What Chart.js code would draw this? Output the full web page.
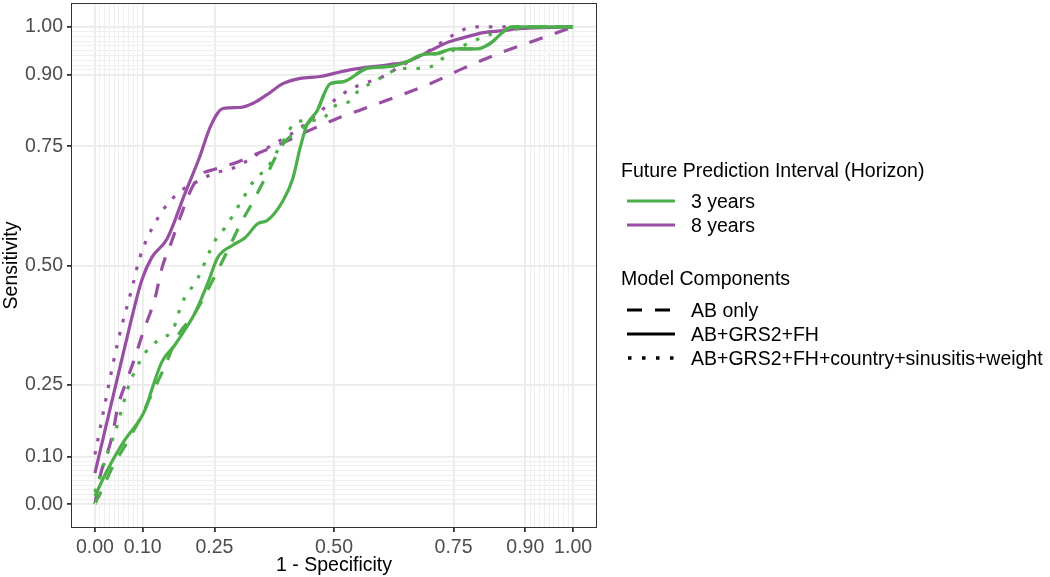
<!DOCTYPE html>
<html>
<head>
<meta charset="utf-8">
<script src="https://cdn.jsdelivr.net/npm/chart.js@4.4.1/dist/chart.umd.min.js"></script>
<style>
  body { margin: 0; background: #fff; font-family: "Liberation Sans", Arial, sans-serif; }
  #wrap { position: relative; width: 1050px; height: 577px; }
  .lg { position: absolute; font-size: 19.5px; line-height: 24px; color: #000; white-space: nowrap; }
  .key { position: absolute; }
</style>
</head>
<body>
<div id="wrap">
  <canvas id="roc" width="1050" height="577"></canvas>

  <div class="lg" style="left:621px; top:158px;">Future Prediction Interval (Horizon)</div>
  <svg class="key" style="left:627px; top:193px;" width="50" height="40">
    <line x1="0" y1="8" x2="48" y2="8" stroke="#4DAF4A" stroke-width="3.2"/>
    <line x1="0" y1="32" x2="48" y2="32" stroke="#984EA3" stroke-width="3.2"/>
  </svg>
  <div class="lg" style="left:691px; top:189px;">3 years</div>
  <div class="lg" style="left:691px; top:213px;">8 years</div>

  <div class="lg" style="left:621px; top:266px;">Model Components</div>
  <svg class="key" style="left:627px; top:302px;" width="50" height="64">
    <line x1="0" y1="8" x2="48" y2="8" stroke="#000" stroke-width="3.2" stroke-dasharray="15 13"/>
    <line x1="0" y1="32" x2="48" y2="32" stroke="#000" stroke-width="3.2"/>
    <line x1="1" y1="56" x2="48" y2="56" stroke="#000" stroke-width="3.5" stroke-dasharray="3.5 10.5"/>
  </svg>
  <div class="lg" style="left:691px; top:298px;">AB only</div>
  <div class="lg" style="left:691px; top:322px;">AB+GRS2+FH</div>
  <div class="lg" style="left:691px; top:346px;">AB+GRS2+FH+country+sinusitis+weight</div>
</div>

<script>
// axis breaks (labelled) and the fine grid lines near 0 and 1
const majorBreaks = [0, 0.1, 0.25, 0.5, 0.75, 0.9, 1];
const minorBreaks = [0.01, 0.02, 0.03, 0.04, 0.05, 0.06, 0.07, 0.08, 0.09,
                     0.91, 0.92, 0.93, 0.94, 0.95, 0.96, 0.97, 0.98, 0.99];

// 3 years
const fpr3AB   = [0, 0.01, 0.038, 0.067, 0.094, 0.121, 0.146, 0.174, 0.209, 0.257, 0.272, 0.308, 0.328, 0.356, 0.393, 0.423, 0.444, 0.464, 0.492, 0.519, 0.569, 0.617, 0.653, 0.686, 0.715, 0.749, 0.799, 0.826, 0.862, 0.874, 1];
const tpr3AB   = [0, 0.02, 0.080, 0.129, 0.178, 0.235, 0.288, 0.354, 0.400, 0.490, 0.520, 0.594, 0.629, 0.683, 0.754, 0.781, 0.796, 0.823, 0.881, 0.885, 0.913, 0.917, 0.927, 0.942, 0.944, 0.954, 0.954, 0.965, 0.996, 1, 1];
const fpr3GRS  = [0, 0.027, 0.063, 0.094, 0.105, 0.119, 0.140, 0.167, 0.188, 0.209, 0.236, 0.257, 0.287, 0.314, 0.341, 0.360, 0.393, 0.414, 0.429, 0.444, 0.464, 0.492, 0.519, 0.569, 0.617, 0.653, 0.686, 0.715, 0.749, 0.799, 0.826, 0.862, 0.874, 1];
const tpr3GRS  = [0.017, 0.073, 0.135, 0.177, 0.198, 0.240, 0.298, 0.333, 0.365, 0.400, 0.463, 0.517, 0.542, 0.558, 0.588, 0.594, 0.635, 0.683, 0.746, 0.796, 0.823, 0.881, 0.885, 0.913, 0.917, 0.927, 0.942, 0.944, 0.954, 0.954, 0.965, 0.996, 1, 1];
const fpr3Full = [0, 0.027, 0.046, 0.063, 0.073, 0.098, 0.115, 0.140, 0.163, 0.182, 0.215, 0.251, 0.272, 0.303, 0.335, 0.360, 0.393, 0.423, 0.471, 0.506, 0.533, 0.550, 0.575, 0.603, 0.628, 0.655, 0.686, 0.715, 0.738, 0.780, 0.830, 0.874, 0.910, 1];
const tpr3Full = [0.025, 0.108, 0.163, 0.223, 0.254, 0.306, 0.329, 0.348, 0.365, 0.421, 0.473, 0.552, 0.579, 0.629, 0.681, 0.704, 0.760, 0.802, 0.805, 0.837, 0.844, 0.865, 0.881, 0.896, 0.910, 0.913, 0.913, 0.923, 0.944, 0.965, 0.985, 0.994, 1, 1];

// 8 years
const fpr8AB   = [0, 0.01, 0.036, 0.048, 0.067, 0.084, 0.100, 0.126, 0.140, 0.161, 0.178, 0.203, 0.224, 0.245, 0.299, 0.341, 0.400, 0.444, 0.502, 0.575, 0.632, 0.701, 0.770, 0.854, 0.925, 1];
const tpr8AB   = [0, 0.055, 0.142, 0.204, 0.260, 0.308, 0.358, 0.433, 0.494, 0.552, 0.600, 0.663, 0.692, 0.700, 0.717, 0.735, 0.760, 0.781, 0.806, 0.833, 0.854, 0.881, 0.913, 0.948, 0.973, 1];
const fpr8GRS  = [0, 0.061, 0.098, 0.119, 0.151, 0.188, 0.220, 0.241, 0.268, 0.303, 0.331, 0.360, 0.393, 0.429, 0.471, 0.498, 0.533, 0.617, 0.653, 0.686, 0.736, 0.770, 0.812, 0.854, 0.883, 1];
const tpr8GRS  = [0.065, 0.323, 0.469, 0.517, 0.556, 0.650, 0.730, 0.790, 0.829, 0.831, 0.840, 0.858, 0.881, 0.892, 0.896, 0.902, 0.910, 0.921, 0.927, 0.942, 0.967, 0.977, 0.988, 0.992, 0.996, 1];
const fpr8Full = [0, 0.048, 0.079, 0.094, 0.132, 0.172, 0.220, 0.251, 0.289, 0.360, 0.429, 0.471, 0.506, 0.533, 0.561, 0.603, 0.638, 0.695, 0.743, 0.770, 0.799, 1];
const tpr8Full = [0.104, 0.340, 0.458, 0.517, 0.600, 0.650, 0.679, 0.694, 0.704, 0.746, 0.788, 0.823, 0.850, 0.869, 0.881, 0.896, 0.917, 0.948, 0.979, 0.994, 1, 1];

const refX = [0, 1];
const refY = [0, 1];

const GREEN = '#4DAF4A';
const PURPLE = '#984EA3';
const DASH = [14, 13];
const DOT = [3.5, 10];

function pts(xs, ys) {
  return xs.map((x, i) => ({ x: x, y: ys[i] }));
}

function curve(label, xs, ys, color, dash) {
  return {
    label: label,
    data: pts(xs, ys),
    showLine: true,
    borderColor: color,
    backgroundColor: color,
    borderWidth: 3.2,
    borderDash: dash,
    borderCapStyle: 'butt',
    pointRadius: 0,
    cubicInterpolationMode: 'monotone'
  };
}

const isMajor = (v) => majorBreaks.includes(v);
const allBreaks = majorBreaks.concat(minorBreaks).sort((a, b) => a - b);

// frame round the panel (theme_bw border)
const panelBorder = {
  id: 'panelBorder',
  afterDraw(chart) {
    const a = chart.chartArea;
    const c = chart.ctx;
    c.save();
    c.strokeStyle = '#333333';
    c.lineWidth = 1;
    c.strokeRect(a.left + 0.5, a.top + 0.5, a.right - a.left - 1, a.bottom - a.top - 1);
    c.restore();
  }
};

const tickFont = { family: 'Liberation Sans, Arial, sans-serif', size: 19.5 };

function axis(titleText, fit) {
  return {
    type: 'linear',
    min: -0.05,
    max: 1.05,
    afterBuildTicks: (ax) => { ax.ticks = allBreaks.map(v => ({ value: v })); },
    afterFit: (s) => {
      fit(s);
      s.paddingTop = 0; s.paddingBottom = 0;
      s.paddingLeft = 0; s.paddingRight = 0;
    },
    border: { display: false },
    grid: {
      color: (ctx) => (ctx.tick && isMajor(ctx.tick.value)) ? '#EBEBEB' : '#EFEFEF',
      lineWidth: (ctx) => (ctx.tick && isMajor(ctx.tick.value)) ? 1.8 : 1,
      tickColor: (ctx) => (ctx.tick && isMajor(ctx.tick.value)) ? '#333333' : 'rgba(0,0,0,0)',
      tickLength: 4,
      drawTicks: true
    },
    ticks: {
      autoSkip: false,
      maxRotation: 0,
      color: '#4D4D4D',
      font: tickFont,
      padding: 4,
      callback: (v) => isMajor(v) ? v.toFixed(2) : ''
    },
    title: {
      display: true,
      text: titleText,
      color: '#000',
      font: tickFont,
      padding: { top: 0, bottom: 0 }
    }
  };
}

new Chart(document.getElementById('roc'), {
  type: 'scatter',
  data: {
    datasets: [
      {
        label: 'ref',
        data: pts(refX, refY),
        showLine: true,
        borderColor: '#FFFFFF',
        borderWidth: 1.2,
        borderDash: [2, 3],
        pointRadius: 0
      },
      curve('3 years AB only', fpr3AB, tpr3AB, GREEN, DASH),
      curve('3 years AB+GRS2+FH', fpr3GRS, tpr3GRS, GREEN, []),
      curve('3 years full', fpr3Full, tpr3Full, GREEN, DOT),
      curve('8 years AB only', fpr8AB, tpr8AB, PURPLE, DASH),
      curve('8 years AB+GRS2+FH', fpr8GRS, tpr8GRS, PURPLE, []),
      curve('8 years full', fpr8Full, tpr8Full, PURPLE, DOT)
    ]
  },
  options: {
    responsive: false,
    animation: false,
    layout: { padding: { top: 3, right: 453, left: 0, bottom: 0 } },
    plugins: {
      legend: { display: false },
      tooltip: { enabled: false }
    },
    scales: {
      x: axis('1 - Specificity', (s) => { s.height = 49; }),
      y: axis('Sensitivity', (s) => { s.width = 71; })
    }
  },
  plugins: [panelBorder]
});
</script>
</body>
</html>
